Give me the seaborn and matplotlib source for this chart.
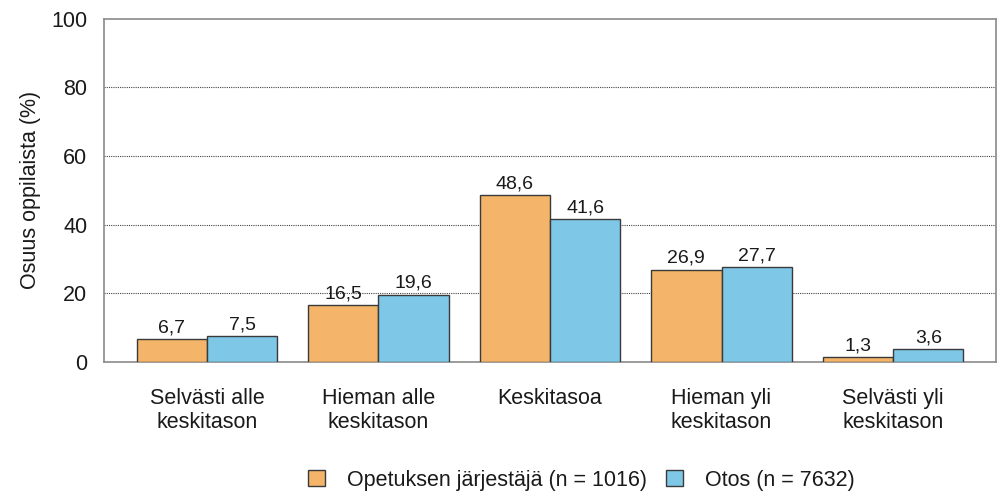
import matplotlib
matplotlib.use("Agg")
import matplotlib.pyplot as plt
import seaborn as sns
import pandas as pd

categories = ["Selvästi alle\nkeskitason", "Hieman alle\nkeskitason", "Keskitasoa",
              "Hieman yli\nkeskitason", "Selvästi yli\nkeskitason"]
series_names = ["Opetuksen järjestäjä (n = 1016)", "Otos (n = 7632)"]
opetus = [6.7, 16.5, 48.6, 26.9, 1.3]
otos = [7.5, 19.6, 41.6, 27.7, 3.6]
yticks = [0, 20, 40, 60, 80, 100]
colors = ["#F4B469", "#7EC7E7"]

sns.set_theme(style="white")
plt.rcParams['font.family'] = ['Liberation Sans', 'DejaVu Sans']

df = pd.DataFrame({
    "cat": categories * 2,
    "series": [series_names[0]] * 5 + [series_names[1]] * 5,
    "val": opetus + otos,
})

fig = plt.figure(figsize=(10, 4.95), dpi=100)
ax = fig.add_axes([0.104, 0.269, 0.892, 0.693])
sns.barplot(data=df, x="cat", y="val", hue="series", palette=colors,
            width=0.82, edgecolor="#3a3a3a", linewidth=1.0, saturation=1,
            ax=ax, zorder=3)

ax.set_ylim(0, 100)
ax.set_xlim(-0.6, 4.6)
ax.set_yticks(yticks)
ax.set_yticklabels([str(t) for t in yticks], fontsize=15.5)
ax.tick_params(axis='x', labelsize=15.5, pad=19, length=0, labelcolor="#1a1a1a")
ax.tick_params(axis='y', pad=12, length=0, labelcolor="#1a1a1a")
ax.set_xlabel("")
ax.set_ylabel("Osuus oppilaista (%)", fontsize=15.5, labelpad=7, color="#1a1a1a")
for y in yticks[1:-1]:
    ax.axhline(y, color="#444444", linestyle=(0, (1, 1)), linewidth=0.8, zorder=1)
for s in ax.spines.values():
    s.set_color("#8a8a8a")
    s.set_linewidth(1.2)

for cont in ax.containers:
    ax.bar_label(cont, labels=[f"{v:.1f}".replace(".", ",") for v in cont.datavalues],
                 fontsize=14, padding=2, color="#1a1a1a")

handles, labels = ax.get_legend_handles_labels()
ax.legend(handles, labels, loc="center", bbox_to_anchor=(0.535, -0.345), ncol=2,
          frameon=False, fontsize=15.5, handlelength=0.8, handleheight=0.8,
          columnspacing=0.9, handletextpad=1.0, labelcolor="#1a1a1a")

fig.savefig("out.png", dpi=100)
